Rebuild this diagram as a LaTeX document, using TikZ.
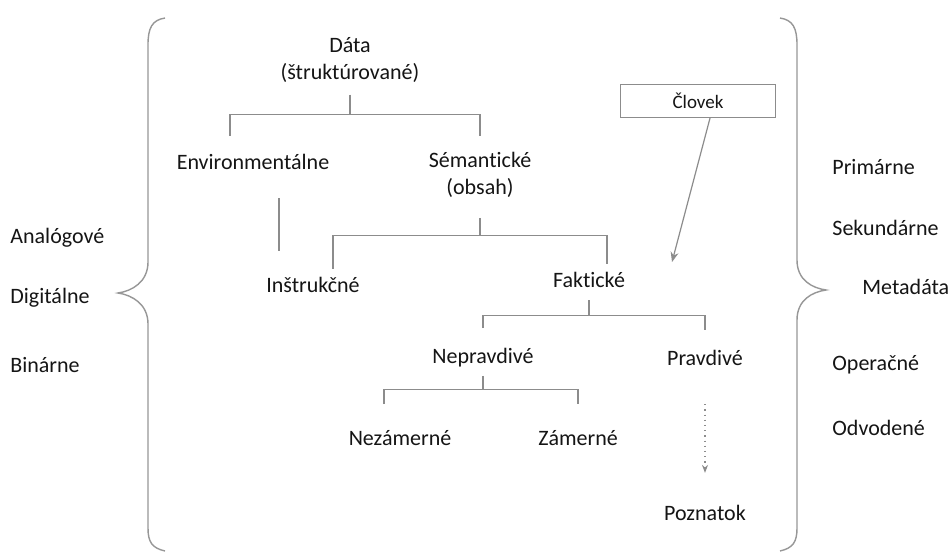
\documentclass[tikz,border=0pt]{standalone}
\usepackage{fontspec}
\setmainfont{Carlito}[Ligatures=NoCommon]
\usetikzlibrary{positioning,arrows.meta}
\definecolor{ink}{HTML}{151515}
\definecolor{wire}{HTML}{8C8C8C}
\tikzset{lbl/.style={draw=none,inner sep=0pt,align=center,text=ink,font=\fontsize{11}{13.2}\selectfont},
  side/.style={lbl,anchor=west},
  tree/.style={draw=wire,line width=0.6pt},
  brace/.style={draw=wire!90,line width=0.7pt}}

\begin{document}
\begin{tikzpicture}[x=0.5pt,y=-0.5pt]
\useasboundingbox[fill=white] (0,0) rectangle (952,553);
% braces
\draw[brace] (165,18) .. controls (152,20) and (148,28) .. (148,45) -- (148,262)
  .. controls (148,282) and (132,291) .. (118,293) .. controls (132,295) and (148,304) .. (148,324)
  -- (148,528) .. controls (148,542) and (152,548) .. (165,551);
\draw[brace] (780,18) .. controls (793,20) and (797,28) .. (797,45) -- (797,260)
  .. controls (797,280) and (812,288) .. (826,290) .. controls (812,292) and (797,300) .. (797,320)
  -- (797,528) .. controls (797,542) and (793,548) .. (780,551);

\node[side] (ana) at (10,238) {Analógové};
\node[side] (dig) at (10,298) {Digitálne};
\node[side] (bin) at (10,365) {Binárne};

\node[side] (pri) at (832,167) {Primárne};
\node[side] (sek) at (832,228) {Sekundárne};
\node[side] (meta) at (862,287) {Metadáta};
\node[side] (ope) at (832,365) {Operačné};
\node[side] (odv) at (832,428) {Odvodené};

\node[lbl] (data) at (350,60) {Dáta\\(štruktúrované)};
\node[lbl] (env) at (253,162) {Environmentálne};
\node[lbl] (sem) at (480,175) {Sémantické\\(obsah)};
\node[lbl] (instr) at (313,285) {Inštrukčné};
\node[lbl] (fakt) at (589,280) {Faktické};
\node[lbl] (neprav) at (483,358) {Nepravdivé};
\node[lbl] (prav) at (705,358) {Pravdivé};
\node[lbl] (nezam) at (400,438) {Nezámerné};
\node[lbl] (zam) at (578,438) {Zámerné};
\node[lbl] (pozn) at (705,513) {Poznatok};

\node[draw=wire,line width=0.6pt,minimum width=77.5pt,minimum height=16.5pt,text=ink,
  font=\fontsize{9.5}{11}\selectfont] (clovek) at (698,101) {Človek};

% trees
\draw[tree] (data.south) ++(0,12) -- ++(0,20) coordinate (dj);
\draw[tree] ([shift={(-23,-18)}]env.north) |- (dj) -| ([shift={(0,-16)}]sem.north);
\draw[tree] ([xshift=13pt]env.south) ++(0,28) -- ++(0,53);
\draw[tree] (sem.south) ++(0,20) -- ++(0,18) coordinate (sj);
\draw[tree] ([shift={(20,-8)}]instr.north) |- (sj) -| ([shift={(18,-8)}]fakt.north);
\draw[tree] (fakt.south) ++(0,12) -- ++(0,15) coordinate (fj);
\draw[tree] ([shift={(0,-20)}]neprav.north) |- (fj) -| ([shift={(0,-20)}]prav.north);
\draw[tree] (neprav.south) ++(0,8) -- ++(0,14) coordinate (nj);
\draw[tree] ([shift={(-16,-26)}]nezam.north) |- (nj) -| ([shift={(0,-26)}]zam.north);

% arrows
\coordinate (ce) at (672,262);
\draw[tree,-{Stealth[length=5pt,width=4pt]}] ([xshift=6pt]clovek.south) -- (ce);
\draw[tree,dotted,-{Stealth[length=4pt,width=3pt]}] (prav.south) ++(0,38) -- ([yshift=16pt]pozn.north);
\end{tikzpicture}
\end{document}
